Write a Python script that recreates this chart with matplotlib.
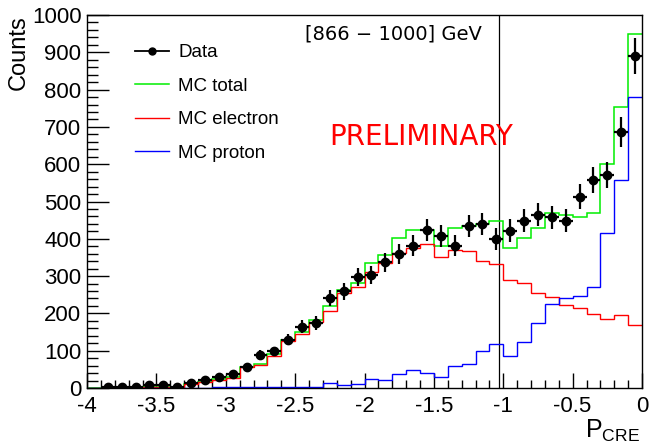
import numpy as np
import matplotlib
matplotlib.use("Agg")
import matplotlib.pyplot as plt
from matplotlib.lines import Line2D
from matplotlib.ticker import MultipleLocator

# ---------------- data ----------------
bin_edges = np.round(np.arange(-4.0, 0.0001, 0.1), 2)
bin_centers = np.round(bin_edges[:-1] + 0.05, 3)

data_counts = [np.nan, 2, 3, 4, 8, 8, 4, 14, 22, 29,
               38, 56, 88, 98, 129, 164, 174, 242, 259, 297,
               303, 337, 360, 382, 424, 408, 381, 434, 440, 399,
               422, 449, 464, 458, 449, 513, 558, 571, 687, 890]
data_errors = [np.nan, 2, 3, 3, 4, 4, 3, 5, 6, 7,
               8, 10, 13, 13, 15, 17, 18, 21, 22, 24,
               24, 26, 27, 28, 30, 29, 28, 30, 30, 29,
               30, 31, 31, 31, 31, 33, 34, 35, 40, 48]

mc_total = [1, 1, 2, 2, 4, 4, 4, 12, 17, 24,
            30, 57, 64, 90, 130, 149, 182, 220, 264, 281,
            335, 356, 401, 423, 424, 382, 430, 433, 441, 449,
            374, 401, 428, 468, 464, 459, 468, 600, 754, 949]
mc_electron = [0, 0, 1, 1, 3, 3, 3, 11, 16, 22,
               28, 55, 62, 87, 126, 145, 178, 206, 255, 270,
               312, 336, 362, 374, 385, 352, 370, 368, 341, 332,
               290, 281, 254, 245, 223, 214, 198, 184, 196, 169]
mc_proton = [1, 1, 1, 1, 1, 1, 1, 1, 1, 2,
             2, 2, 2, 3, 3, 4, 4, 14, 8, 12,
             24, 21, 37, 48, 39, 30, 60, 64, 100, 117,
             86, 124, 175, 225, 242, 247, 272, 415, 558, 781]

cut_value = -1.03
energy_label = "[866 \u2212 1000] GeV"
x_ticks = [-4, -3.5, -3, -2.5, -2, -1.5, -1, -0.5, 0]
x_tick_labels = ["-4", "-3.5", "-3", "-2.5", "-2", "-1.5", "-1", "-0.5", "0"]
y_ticks = [0, 100, 200, 300, 400, 500, 600, 700, 800, 900, 1000]

# ---------------- figure ----------------
plt.rcParams['font.family'] = ['Liberation Sans', 'DejaVu Sans']
plt.rcParams['mathtext.default'] = 'regular'

fig = plt.figure(figsize=(6.5, 4.46), dpi=100)
ax = fig.add_axes([87/650, 58/446, 555/650, 373/446])

ax.stairs(mc_total, bin_edges, baseline=None, color='#00ee00', lw=1.1, zorder=2)
ax.stairs(mc_electron, bin_edges, baseline=None, color='#ff0000', lw=1.0, zorder=2)
ax.stairs(mc_proton, bin_edges, baseline=None, color='#0000ff', lw=1.0, zorder=2)

ax.errorbar(bin_centers, data_counts, yerr=data_errors, xerr=0.05,
            fmt='o', color='black', ms=6, elinewidth=1.6, capsize=0, zorder=3)

ax.axvline(cut_value, color='black', lw=0.9, zorder=1)

ax.set_xlim(-4, 0)
ax.set_ylim(0, 1000)
ax.set_xticks(x_ticks)
ax.set_xticklabels(x_tick_labels)
ax.set_yticks(y_ticks)
ax.xaxis.set_minor_locator(MultipleLocator(0.1))
ax.yaxis.set_minor_locator(MultipleLocator(20))
ax.tick_params(axis='x', which='major', direction='in', length=11, width=1.0,
               labelsize=16, pad=6, top=False)
ax.tick_params(axis='x', which='minor', direction='in', length=5.5, width=1.0, top=False)
ax.tick_params(axis='y', which='major', direction='in', length=16, width=1.0,
               labelsize=16, pad=4, right=False)
ax.tick_params(axis='y', which='minor', direction='in', length=8, width=1.0, right=False)
for s in ax.spines.values():
    s.set_linewidth(1.0)

fig.text(30/650, 1 - 15/446, "Counts", rotation=90, fontsize=17,
         ha='right', va='top')
fig.text(640/650, 2/446, r"P$_{CRE}$", fontsize=18, ha='right', va='bottom')

fig.text(305/650, 1 - 40/446, energy_label, fontsize=14,
         family=['DejaVu Sans'], ha='left', va='baseline')
fig.text(329/650, 1 - 145/446, "PRELIMINARY", fontsize=20, color='red',
         family=['DejaVu Sans'], ha='left', va='baseline')

handles = [
    Line2D([], [], color='black', marker='o', ms=5, lw=1.3),
    Line2D([], [], color='#00ee00', lw=1.1),
    Line2D([], [], color='#ff0000', lw=1.0),
    Line2D([], [], color='#0000ff', lw=1.0),
]
labels = ["Data", "MC total", "MC electron", "MC proton"]
ax.legend(handles, labels, loc='upper left', bbox_to_anchor=(48/555, 1 - 29/373),
          frameon=False, fontsize=13.5, handlelength=1.8, handletextpad=0.5,
          labelspacing=0.88, borderpad=0, borderaxespad=0)

fig.savefig("out.png", dpi=100)
